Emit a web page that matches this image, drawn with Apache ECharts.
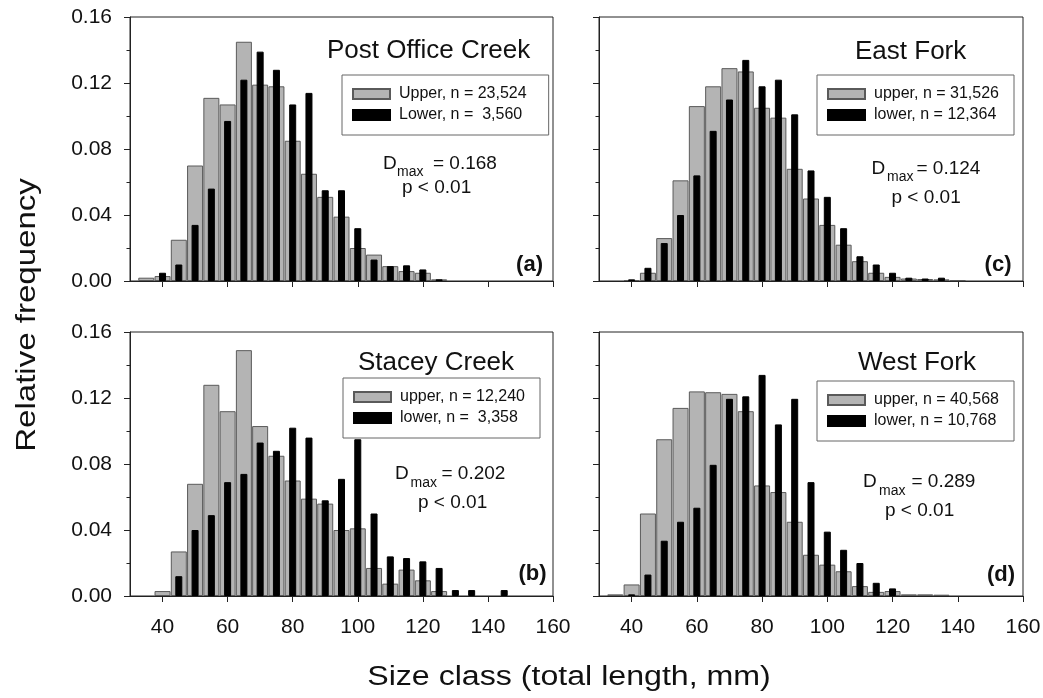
<!DOCTYPE html>
<html lang="en">
<head>
<meta charset="UTF-8">
<title>Size class distributions</title>
<script src="https://cdn.jsdelivr.net/npm/echarts@6/dist/echarts.min.js"></script>
<style>
  html, body { margin: 0; padding: 0; background: #fff; }
  #main { width: 1043px; height: 698px; }
</style>
</head>
<body>
<div id="main"></div>
<script type="text/javascript">
// size classes (total length, mm) - one bar per 5 mm class
var sizeClass = [35, 40, 45, 50, 55, 60, 65, 70, 75, 80, 85, 90, 95, 100, 105, 110, 115, 120, 125, 130, 135, 140, 145];
var xTicks = [40, 60, 80, 100, 120, 140, 160];

// (a) Post Office Creek
var upperPostOffice = [0.002, 0.003, 0.025, 0.070, 0.111, 0.107, 0.145, 0.119, 0.118, 0.085, 0.065, 0.051, 0.039, 0.020, 0.016, 0.009, 0.006, 0.005, 0.001, null, null, null, null];
var lowerPostOffice = [null, 0.005, 0.010, 0.034, 0.056, 0.097, 0.122, 0.139, 0.128, 0.107, 0.114, 0.055, 0.055, 0.032, 0.013, 0.009, 0.0095, 0.007, 0.001, null, null, null, null];
// (b) Stacey Creek
var upperStacey = [null, 0.003, 0.027, 0.068, 0.128, 0.112, 0.149, 0.103, 0.085, 0.070, 0.059, 0.056, 0.040, 0.041, 0.017, 0.0075, 0.016, 0.0095, 0.003, null, null, null, null];
var lowerStacey = [null, null, 0.012, 0.040, 0.049, 0.069, 0.074, 0.093, 0.088, 0.102, 0.096, 0.058, 0.071, 0.095, 0.050, 0.024, 0.023, 0.021, 0.017, 0.0036, 0.0036, null, 0.0036];
// (c) East Fork
var upperEast = [null, 0.0006, 0.005, 0.026, 0.061, 0.106, 0.118, 0.129, 0.127, 0.105, 0.099, 0.068, 0.050, 0.034, 0.022, 0.012, 0.005, 0.0025, 0.0015, 0.0012, 0.001, 0.0005, null];
var lowerEast = [null, 0.001, 0.008, 0.023, 0.040, 0.064, 0.091, 0.110, 0.134, 0.118, 0.122, 0.101, 0.067, 0.051, 0.032, 0.015, 0.010, 0.005, 0.002, 0.0015, 0.002, null, null];
// (d) West Fork
var upperWest = [0.001, 0.007, 0.050, 0.095, 0.114, 0.124, 0.1235, 0.1225, 0.112, 0.067, 0.063, 0.045, 0.025, 0.019, 0.015, 0.006, 0.0025, 0.003, 0.001, 0.001, 0.0008, null, null];
var lowerWest = [null, 0.001, 0.013, 0.0335, 0.045, 0.0535, 0.0795, 0.1195, 0.121, 0.134, 0.104, 0.1195, 0.069, 0.039, 0.028, 0.020, 0.008, 0.0046, null, null, null, null, null];

var siteNames = ['Post Office Creek', 'Stacey Creek', 'East Fork', 'West Fork'];
var upperNames = ['Upper, n = 23,524', 'upper, n = 12,240', 'upper, n = 31,526', 'upper, n = 40,568'];
var lowerNames = ['Lower, n =  3,560', 'lower, n =  3,358', 'lower, n = 12,364', 'lower, n = 10,768'];
var dmaxValues = ['0.168', '0.202', '0.124', '0.289'];
var panelTags = ['(a)', '(b)', '(c)', '(d)'];

var upperData = [upperPostOffice, upperStacey, upperEast, upperWest];
var lowerData = [lowerPostOffice, lowerStacey, lowerEast, lowerWest];

// layout (pixels): a top-left, b bottom-left, c top-right, d bottom-right
var gridBoxes = [
    {left: 130, top: 17, width: 423, height: 264},
    {left: 130, top: 332, width: 423, height: 264},
    {left: 599, top: 17, width: 424, height: 264},
    {left: 599, top: 332, width: 424, height: 264}
];
var legendPos = [[342, 75, 22], [343, 378, 15], [817, 75, 15], [817, 381, 15]]; // left, top, right padding
var titlePos = [[327, 51], [358, 362.5], [855, 51.5], [858, 363]];
// D left, D y, max left, max y, "=" left, p left, p y
var dmaxPos = [
    [383, 163.5, 397, 172.5, 433, 402, 187.5],
    [395, 474, 410.5, 483.5, 441.5, 418, 502.5],
    [871.5, 168.5, 887, 177, 916.5, 891.5, 197.5],
    [863, 481.5, 879, 491, 911.5, 885, 511]
];
var tagPos = [[543, 265], [546.5, 573.5], [1011.5, 265], [1015, 575]];

var FONT = 'Liberation Sans, Arial, sans-serif';
var INK = '#111';
var AXIS = '#222';

function pairs(vals) {
    var out = [];
    for (var k = 0; k < sizeClass.length; k++) {
        if (vals[k] != null) out.push([sizeClass[k], vals[k]]);
    }
    return out;
}

var grids = [], xAxes = [], yAxes = [], series = [], legends = [], graphics = [];

for (var i = 0; i < 4; i++) {
    var box = gridBoxes[i];
    var isBottom = (i === 1 || i === 3);
    var isLeft = (i < 2);
    grids.push({
        left: box.left, top: box.top, width: box.width, height: box.height,
        show: true, borderColor: AXIS, borderWidth: 1, backgroundColor: 'transparent',
        outerBoundsMode: 'none'
    });
    // visible axis (grey bars) + hidden twin (black bars) so both are centred on the class
    xAxes.push({
        gridIndex: i, type: 'value', min: 30, max: 160,
        axisLine: {show: true, onZero: false, lineStyle: {color: AXIS, width: 1}},
        axisTick: {show: true, length: 6, customValues: xTicks, lineStyle: {color: AXIS}},
        axisLabel: {show: isBottom, customValues: xTicks, fontSize: 21, fontFamily: FONT, color: INK, margin: 21},
        splitLine: {show: false}
    });
    xAxes.push({gridIndex: i, type: 'value', min: 30, max: 160, show: false});
    yAxes.push({
        gridIndex: i, type: 'value', min: 0, max: 0.16, interval: 0.04,
        axisLine: {show: true, lineStyle: {color: AXIS, width: 1}},
        axisTick: {show: true, length: 6, lineStyle: {color: AXIS}},
        minorTick: {show: true, splitNumber: 2, length: 3.5, lineStyle: {color: AXIS}},
        axisLabel: {
            show: isLeft, fontSize: 21, fontFamily: FONT, color: INK, margin: 18,
            formatter: function (v) { return v.toFixed(2); }
        },
        splitLine: {show: false},
        minorSplitLine: {show: false}
    });
    series.push({
        name: upperNames[i], type: 'bar', xAxisIndex: 2 * i, yAxisIndex: i,
        barWidth: 16, data: pairs(upperData[i]),
        itemStyle: {color: '#b4b4b4', borderColor: '#5a5a5a', borderWidth: 1}
    });
    series.push({
        name: lowerNames[i], type: 'bar', xAxisIndex: 2 * i + 1, yAxisIndex: i,
        barWidth: 7, data: pairs(lowerData[i]),
        itemStyle: {color: '#000', borderColor: '#000', borderWidth: 1}
    });
    legends.push({
        data: [upperNames[i], lowerNames[i]],
        left: legendPos[i][0], top: legendPos[i][1],
        orient: 'vertical', icon: 'rect', itemWidth: 37, itemHeight: 10, itemGap: 3,
        padding: [10, legendPos[i][2], 11, 10],
        borderColor: '#666', borderWidth: 1,
        selectedMode: false,
        textStyle: {fontSize: 16, fontFamily: FONT, color: INK, lineHeight: 18, padding: [0, 0, 0, 4]}
    });

    // site name
    graphics.push({type: 'text', x: titlePos[i][0], y: titlePos[i][1],
        style: {text: siteNames[i], font: '26px ' + FONT, fill: INK, textAlign: 'left', textVerticalAlign: 'middle'}});
    // D_max = ..., p < 0.01
    var d = dmaxPos[i];
    graphics.push({type: 'text', x: d[0], y: d[1],
        style: {text: 'D', font: '19px ' + FONT, fill: INK, textAlign: 'left', textVerticalAlign: 'middle'}});
    graphics.push({type: 'text', x: d[2], y: d[3],
        style: {text: 'max', font: '14px ' + FONT, fill: INK, textAlign: 'left', textVerticalAlign: 'middle'}});
    graphics.push({type: 'text', x: d[4], y: d[1],
        style: {text: '= ' + dmaxValues[i], font: '19px ' + FONT, fill: INK, textAlign: 'left', textVerticalAlign: 'middle'}});
    graphics.push({type: 'text', x: d[5], y: d[6],
        style: {text: 'p < 0.01', font: '19px ' + FONT, fill: INK, textAlign: 'left', textVerticalAlign: 'middle'}});
    // panel tag
    graphics.push({type: 'text', x: tagPos[i][0], y: tagPos[i][1],
        style: {text: panelTags[i], font: 'bold 22px ' + FONT, fill: INK, textAlign: 'right', textVerticalAlign: 'middle'}});
}

// shared axis titles
graphics.push({type: 'text', x: 27, y: 315, rotation: Math.PI / 2, scaleX: 1.18,
    style: {text: 'Relative frequency', font: '28px ' + FONT, fill: INK, textAlign: 'center', textVerticalAlign: 'middle'}});
graphics.push({type: 'text', x: 569, y: 678, scaleX: 1.19,
    style: {text: 'Size class (total length, mm)', font: '27px ' + FONT, fill: INK, textAlign: 'center', textVerticalAlign: 'middle'}});

var myChart = echarts.init(document.getElementById('main'));
myChart.setOption({
    animation: false,
    backgroundColor: '#fff',
    grid: grids,
    xAxis: xAxes,
    yAxis: yAxes,
    legend: legends,
    series: series,
    graphic: graphics
});
</script>
</body>
</html>
